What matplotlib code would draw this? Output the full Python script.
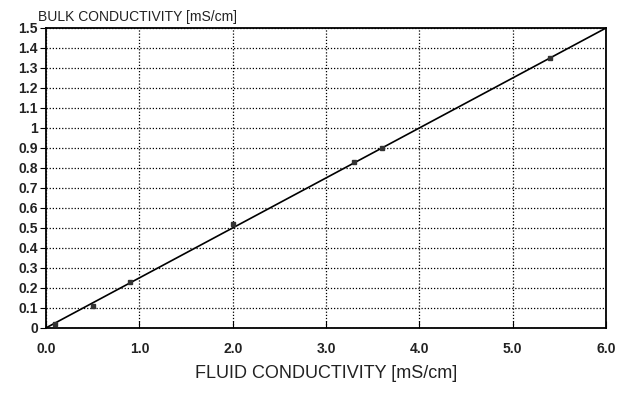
import numpy as np
from matplotlib import pyplot as plt

fit_x = [0.0, 6.0]
fit_y = [0.0, 1.5]
pts_x = [0.1, 0.5, 0.9, 2.0, 3.3, 3.6, 5.4]
pts_y = [0.02, 0.11, 0.23, 0.52, 0.83, 0.90, 1.35]

x_ticks = [0.0, 1.0, 2.0, 3.0, 4.0, 5.0, 6.0]
y_ticks = [0, 0.1, 0.2, 0.3, 0.4, 0.5, 0.6, 0.7, 0.8, 0.9, 1.0,
           1.1, 1.2, 1.3, 1.4, 1.5]

plt.rcParams['font.family'] = ['Liberation Sans', 'DejaVu Sans']

fig = plt.figure(figsize=(6.32, 3.94), dpi=100)
ax = fig.add_axes([0.073, 0.168, 0.886, 0.761])

ax.plot(fit_x, fit_y, color='black', lw=1.2)
ax.plot(pts_x, pts_y, 's', color='#333333', ms=3, zorder=3)

ax.set_xlim(0, 6)
ax.set_ylim(0, 1.5)
ax.set_xticks(x_ticks)
ax.set_xticklabels(['%.1f' % v for v in x_ticks])
ax.set_yticks(y_ticks)
ax.set_yticklabels(['%g' % round(v, 1) for v in y_ticks])
ax.grid(True, color='black', ls=(0, (1, 1.5)), lw=0.9)

ax.tick_params(axis='x', direction='in', length=5, pad=10, labelsize=10)
ax.tick_params(axis='y', direction='out', length=4, pad=2, labelsize=10)
for lab in ax.get_xticklabels() + ax.get_yticklabels():
    lab.set_fontweight('bold')
    lab.set_color('#222222')
for s in ax.spines.values():
    s.set_linewidth(1.3)

ax.set_xlabel('FLUID CONDUCTIVITY [mS/cm]', fontsize=13, labelpad=7,
              color='#222222')
fig.text(0.06, 0.94, 'BULK CONDUCTIVITY [mS/cm]', fontsize=10,
         color='#222222', ha='left', va='bottom')

plt.savefig('out.png', dpi=100)
